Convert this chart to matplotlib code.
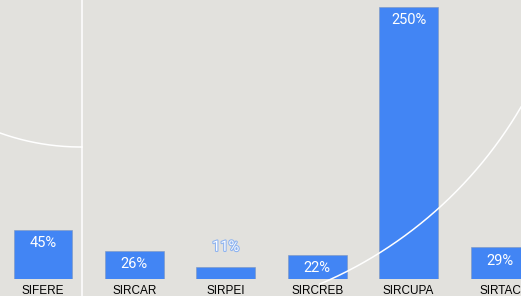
import matplotlib
matplotlib.use("Agg")
import numpy as np
import matplotlib.pyplot as plt
import matplotlib.patheffects as pe
from matplotlib.lines import Line2D

# datos
categorias = ["SIFERE", "SIRCAR", "SIRPEI", "SIRCREB", "SIRCUPA", "SIRTAC"]
valores = [45, 26, 11, 22, 250, 29]
etiquetas = ["45%", "26%", "11%", "22%", "250%", "29%"]

FONDO = "#e2e1dd"
AZUL = "#4285f4"
W, H = 521, 296

plt.rcParams['font.family'] = ['Liberation Sans', 'DejaVu Sans']

fig = plt.figure(figsize=(W / 100, H / 100), dpi=100, facecolor=FONDO)


# lineas decorativas del fondo (arcos por tres puntos, en pixeles)
def arco(p1, p2, p3, x0, x1, ramal=1):
    A = np.array([[2 * (p2[0] - p1[0]), 2 * (p2[1] - p1[1])],
                  [2 * (p3[0] - p1[0]), 2 * (p3[1] - p1[1])]])
    b = np.array([p2[0]**2 - p1[0]**2 + p2[1]**2 - p1[1]**2,
                  p3[0]**2 - p1[0]**2 + p3[1]**2 - p1[1]**2])
    cx, cy = np.linalg.solve(A, b)
    r = np.hypot(p1[0] - cx, p1[1] - cy)
    xs = np.linspace(x0, x1, 200)
    ys = cy + ramal * np.sqrt(np.clip(r**2 - (xs - cx)**2, 0, None))
    return xs, ys


def deco(xs, ys):
    fig.add_artist(Line2D(np.asarray(xs) / W, 1 - np.asarray(ys) / H,
                          color="white", lw=1.1, zorder=0.5,
                          transform=fig.transFigure))


deco([82, 82], [0, 296])
deco(*arco((0, 133), (40, 143.5), (82, 147), 0, 82, ramal=1))
deco(*arco((320, 284), (440, 207), (521, 107), 320, 521, ramal=1))

ax = fig.add_axes([0, 17 / H, 1, 279 / H])
ax.set_facecolor("none")
x = list(range(len(categorias)))
bars = ax.bar(x, valores, width=0.645, color=AZUL, edgecolor="#7f97bd",
              linewidth=0.4, zorder=2)

ax.set_xlim(-43 / 91.4, (W - 43) / 91.4)
ax.set_ylim(0, 279 / 1.088)

for xi, v, lab in zip(x, valores, etiquetas):
    if v > 15:
        ax.annotate(lab, (xi, v), xytext=(0, -9.5), textcoords="offset points",
                    ha="center", va="center", color="white", fontsize=10.5,
                    family="Roboto", zorder=3)
    else:
        ax.annotate(lab, (xi, v), xytext=(0, 14.5), textcoords="offset points",
                    ha="center", va="center", color="white", fontsize=10.5,
                    family="Roboto", zorder=3,
                    path_effects=[pe.withStroke(linewidth=1.6, foreground="#8fb4f0")])

ax.set_xticks(x)
ax.set_xticklabels(categorias, fontsize=8.5, color="black")
ax.tick_params(axis="x", length=0, pad=4)
ax.set_yticks([])
for s in ax.spines.values():
    s.set_visible(False)

fig.savefig("out.png", dpi=100, facecolor=FONDO)
